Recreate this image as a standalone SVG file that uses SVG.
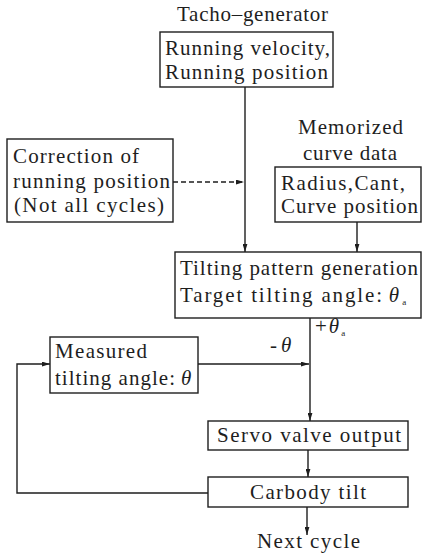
<svg xmlns="http://www.w3.org/2000/svg" width="423" height="555" viewBox="0 0 423 555" font-family="'Liberation Serif', 'DejaVu Serif', serif">
  <defs>
    <marker id="arr" viewBox="0 0 10 6" refX="10" refY="3" markerWidth="8" markerHeight="5" markerUnits="userSpaceOnUse" orient="auto">
      <path d="M0,0 L10,3 L0,6 Z" fill="#1e1e1e"/>
    </marker>
    <style>
      text { font-family: 'Liberation Serif', 'DejaVu Serif', serif; font-size: 21px; fill: #1e1e1e; }
      .box { fill: none; stroke: #1e1e1e; stroke-width: 1.4; }
      .ln { fill: none; stroke: #1e1e1e; stroke-width: 1.4; }
      .dash { stroke-dasharray: 5 3; }
      .th { font-style: italic; }
      .sub { font-size: 9px; }
    </style>
  </defs>
  <rect width="423" height="555" fill="#ffffff"/>

  <!-- connectors -->
  <g id="connectors">
    <line class="ln" x1="245" y1="87" x2="245" y2="252" marker-end="url(#arr)"/>
    <line class="ln dash" x1="173" y1="182" x2="244" y2="182" marker-end="url(#arr)"/>
    <line class="ln" x1="357" y1="222" x2="357" y2="252" marker-end="url(#arr)"/>
    <line class="ln" x1="310" y1="318" x2="310" y2="421" marker-end="url(#arr)"/>
    <line class="ln" x1="198" y1="364" x2="309" y2="364" marker-end="url(#arr)"/>
    <polyline class="ln" points="208,493 17,493 17,364 50,364" marker-end="url(#arr)"/>
    <line class="ln" x1="308" y1="450" x2="308" y2="477" marker-end="url(#arr)"/>
    <line class="ln" x1="307" y1="507" x2="307" y2="535" marker-end="url(#arr)"/>
    <text x="315" y="333"><tspan>+</tspan><tspan class="th" dx="2">θ</tspan><tspan class="sub" dy="3" dx="2">a</tspan></text>
    <text x="270" y="352"><tspan>-</tspan><tspan class="th" dx="4">θ</tspan></text>
  </g>

  <!-- tacho-generator -->
  <g id="tacho">
    <text x="177" y="21" textLength="151" lengthAdjust="spacing">Tacho–generator</text>
    <rect class="box" x="160" y="32" width="173" height="55"/>
    <text x="165" y="55" textLength="165" lengthAdjust="spacing">Running velocity,</text>
    <text x="165" y="79" textLength="163" lengthAdjust="spacing">Running position</text>
  </g>

  <!-- memorized curve data -->
  <g id="curve-data">
    <text x="298" y="134" textLength="105" lengthAdjust="spacing">Memorized</text>
    <text x="303" y="160" textLength="94" lengthAdjust="spacing">curve data</text>
    <rect class="box" x="275" y="167" width="146" height="55"/>
    <text x="281" y="190" textLength="124" lengthAdjust="spacing">Radius,Cant,</text>
    <text x="281" y="213" textLength="137" lengthAdjust="spacing">Curve position</text>
  </g>

  <!-- position correction -->
  <g id="correction">
    <rect class="box" x="7" y="139" width="166" height="83"/>
    <text x="13" y="163" textLength="126" lengthAdjust="spacing">Correction of</text>
    <text x="13" y="188" textLength="157" lengthAdjust="spacing">running position</text>
    <text x="14" y="212" textLength="150" lengthAdjust="spacing">(Not all cycles)</text>
  </g>

  <!-- tilting pattern generation -->
  <g id="pattern">
    <rect class="box" x="175" y="252" width="246" height="66"/>
    <text x="180" y="275" textLength="238" lengthAdjust="spacing">Tilting pattern generation</text>
    <text x="180" y="302"><tspan textLength="202" lengthAdjust="spacing">Target tilting angle:</tspan><tspan class="th" dx="5">θ</tspan><tspan class="sub" dy="3" dx="3">a</tspan></text>
  </g>

  <!-- measured tilting angle -->
  <g id="measured">
    <rect class="box" x="50" y="337" width="148" height="56"/>
    <text x="55" y="358" textLength="92" lengthAdjust="spacing">Measured</text>
    <text x="55" y="385"><tspan textLength="120" lengthAdjust="spacing">tilting angle:</tspan><tspan class="th" dx="5">θ</tspan></text>
  </g>

  <!-- servo valve output -->
  <g id="servo">
    <rect class="box" x="208" y="421" width="200" height="29"/>
    <text x="217" y="442" textLength="184" lengthAdjust="spacing">Servo valve output</text>
  </g>

  <!-- carbody tilt -->
  <g id="carbody">
    <rect class="box" x="208" y="477" width="200" height="30"/>
    <text x="250" y="499" textLength="116" lengthAdjust="spacing">Carbody tilt</text>
  </g>

  <!-- next cycle -->
  <g id="next">
    <text x="257" y="548" textLength="103" lengthAdjust="spacing">Next cycle</text>
  </g>
</svg>
